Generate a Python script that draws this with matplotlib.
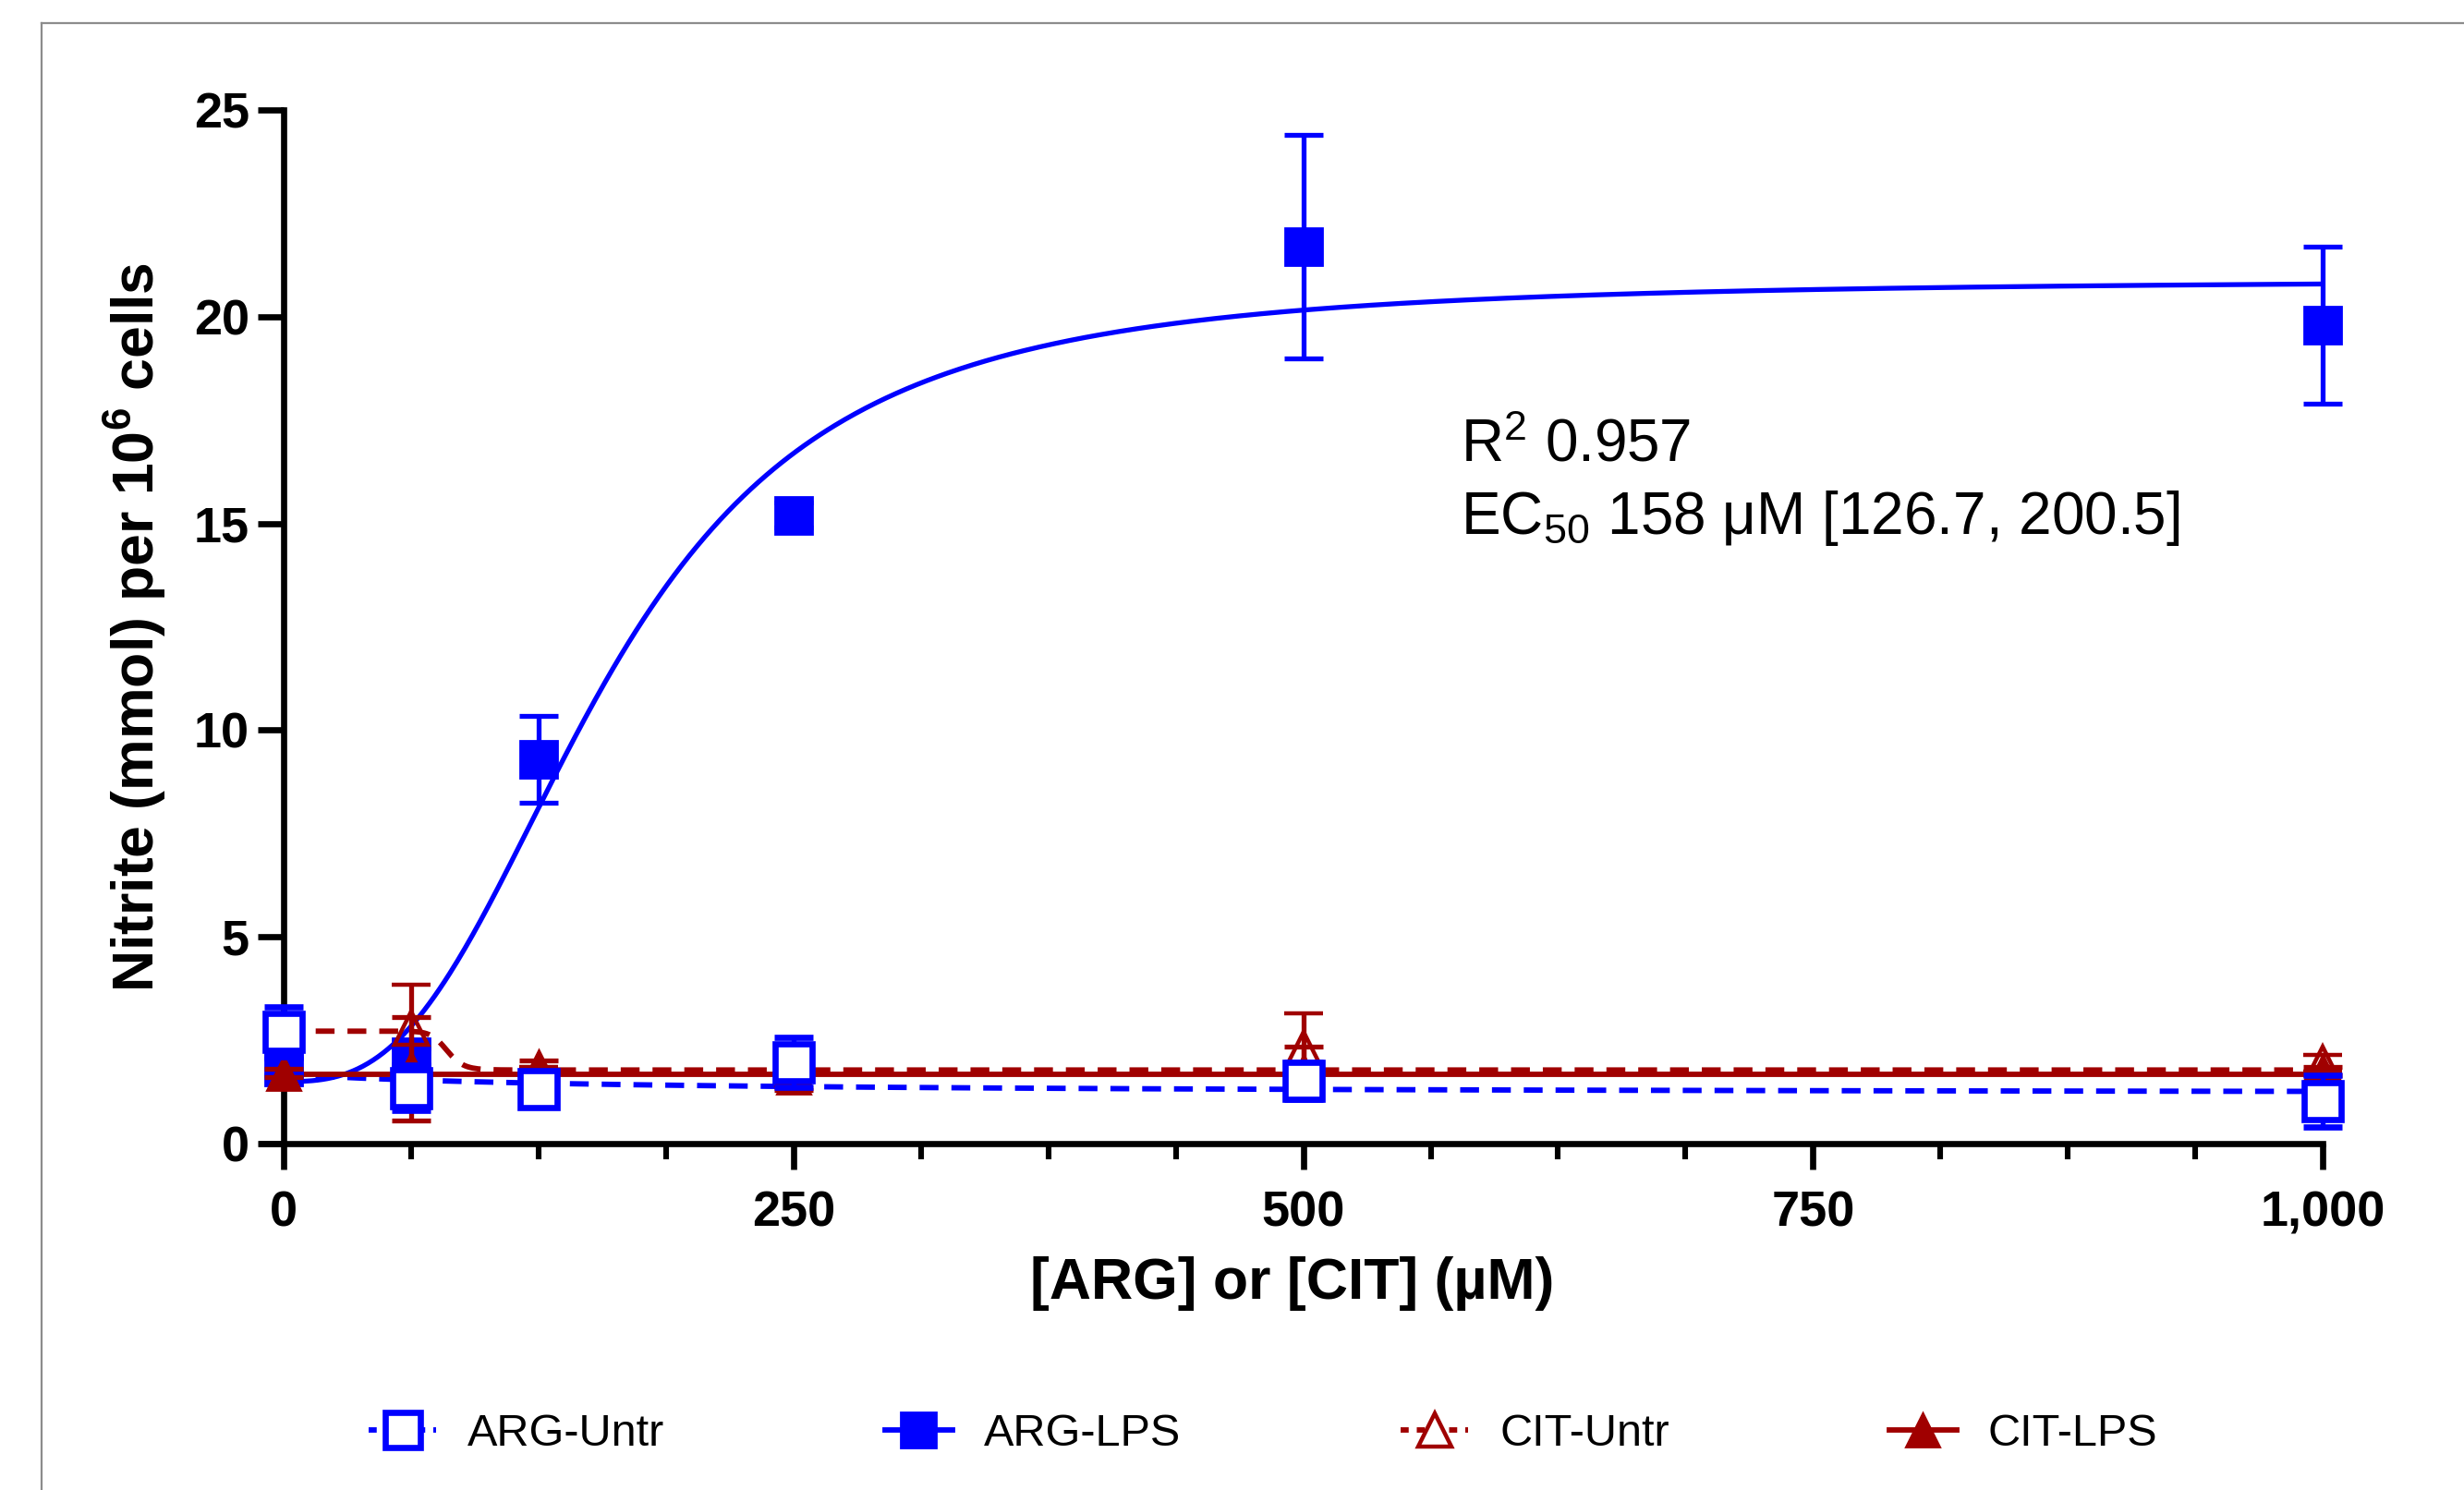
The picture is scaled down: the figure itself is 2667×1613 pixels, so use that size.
import numpy as np
import matplotlib
matplotlib.use("Agg")
import matplotlib.pyplot as plt
from matplotlib.lines import Line2D

plt.rcParams['font.family'] = ['Liberation Sans', 'DejaVu Sans']
plt.rcParams['mathtext.fontset'] = 'custom'
plt.rcParams['mathtext.rm'] = 'Liberation Sans'
plt.rcParams['mathtext.bf'] = 'Liberation Sans:bold'
plt.rcParams['mathtext.default'] = 'regular'

blue = '#0000ff'
red = '#a00000'

# concentrations (uM)
conc = [0, 62.5, 125, 250, 500, 1000]

# measured nitrite, mean and error
arg_untr = [2.7, 1.35, 1.32, 1.97, 1.52, 1.03]
arg_untr_err = [0.6, 0.55, 0.1, 0.6, 0.45, 0.62]
arg_lps = [1.85, 2.1, 9.3, 15.2, 21.7, 19.8]
arg_lps_err = [0.2, 0.2, 1.05, 0.3, 2.7, 1.9]
cit_untr = [2.7, 2.8, 1.75, 1.8, 2.3, 1.95]
cit_untr_err = [0.1, 1.05, 0.1, 0.2, 0.85, 0.2]
cit_lps = [1.7, 1.8, 1.85, 1.6, 1.75, 1.75]
cit_lps_err = [0.1, 1.25, 0.15, 0.3, 0.6, 0.1]

# fitted dose-response parameters: bottom, top, ec50, hill
arg_lps_fit = [1.5, 20.9, 158, 2.8]
arg_untr_fit = [1.68, 1.2, 150, 1.0]
cit_untr_fit = [2.72, 1.78, 80, 20.0]
cit_lps_level = 1.68

r2_text = r'R$^2$ 0.957'
ec50_text = r'EC$_{50}$ 158 μM [126.7, 200.5]'


def hill(x, p):
    bottom, top, ec50, h = p
    return bottom + (top - bottom) * x ** h / (x ** h + ec50 ** h)


fig = plt.figure(figsize=(2667 / 200, 1613 / 200), dpi=200)
ax = fig.add_axes([283 / 2667, 375 / 1613, (2514 - 283) / 2667, (1494 - 375) / 1613])

xs = np.linspace(0, 1000, 800)
ax.plot(xs, hill(xs, arg_lps_fit), color=blue, lw=1.9, zorder=2)
ax.plot(xs, hill(xs, arg_untr_fit), color=blue, lw=2.1, dashes=(3.5, 2.4), zorder=2)
ax.plot(xs, hill(xs, cit_untr_fit), color=red, lw=2.1, dashes=(3.5, 2.4), zorder=2)
ax.plot(xs, np.full_like(xs, cit_lps_level), color=red, lw=2.1, zorder=2)

eb = dict(ls='none', elinewidth=1.9, capsize=7.5, capthick=1.9, clip_on=False)
ax.errorbar(conc, arg_lps, yerr=arg_lps_err, color=blue, marker='s', ms=14.5,
            mfc=blue, mec=blue, zorder=3, **eb)
ax.errorbar(conc, cit_lps, yerr=cit_lps_err, color=red, marker='^', ms=13,
            mfc=red, mec=red, zorder=4, **eb)
ax.errorbar(conc, cit_untr, yerr=cit_untr_err, color=red, marker='^', ms=13,
            mfc='none', mec=red, mew=1.6, zorder=5, **eb)
ax.errorbar(conc, arg_untr, yerr=arg_untr_err, color=blue, marker='s', ms=14.5,
            mfc='white', mec=blue, mew=2.4, zorder=6, **eb)

ax.set_xlim(-11, 1000)
ax.set_ylim(0, 25)
ax.spines['left'].set_position(('data', 0))
ax.spines['top'].set_visible(False)
ax.spines['right'].set_visible(False)
for s in ['left', 'bottom']:
    ax.spines[s].set_linewidth(2.4)
    ax.spines[s].set_capstyle('projecting')

ax.set_xticks([0, 250, 500, 750, 1000])
ax.set_xticklabels(['0', '250', '500', '750', '1,000'])
ax.set_xticks(np.arange(0, 1001, 62.5), minor=True)
ax.set_yticks([0, 5, 10, 15, 20, 25])
ax.tick_params(axis='both', which='major', direction='out', length=10, width=2.4,
               labelsize=19.5)
ax.tick_params(axis='x', which='major', pad=8)
ax.tick_params(axis='y', which='major', pad=3.5)
ax.tick_params(axis='x', which='minor', direction='out', length=6, width=2.2)
for lab in ax.get_xticklabels() + ax.get_yticklabels():
    lab.set_fontweight('bold')

ax.set_xlabel('[ARG] or [CIT] (µM)', fontsize=22.5, fontweight='bold', labelpad=8)
ax.set_ylabel(r'Nitrite (mmol) per 10$^{\mathbf{6}}$ cells', fontsize=22.5,
              fontweight='bold', labelpad=10)

ax.text(577, 16.5, r2_text, fontsize=23, va='baseline')
ax.text(577, 14.75, ec50_text, fontsize=23, va='baseline')

handles = [
    Line2D([], [], color=blue, lw=2.1, dashes=(1.5, 1.5), marker='s', ms=14,
           mfc='white', mec=blue, mew=2.4),
    Line2D([], [], color=blue, lw=2.1, marker='s', ms=14, mfc=blue, mec=blue),
    Line2D([], [], color=red, lw=2.1, dashes=(1.5, 1.5), marker='^', ms=13,
           mfc='white', mec=red, mew=1.6),
    Line2D([], [], color=red, lw=2.1, marker='^', ms=13, mfc=red, mec=red),
]
labels = ['ARG-Untr', 'ARG-LPS', 'CIT-Untr', 'CIT-LPS']
fig.legend(handles, labels, loc='center', bbox_to_anchor=(0.5127, 0.0372), ncol=4,
           frameon=False, fontsize=17.5, handlelength=1.5, handletextpad=0.7,
           columnspacing=4.9)

# thin grey frame on top and left edge
fig.add_artist(Line2D([45 / 2667, 1], [1 - 25 / 1613, 1 - 25 / 1613], color='#8c8c8c', lw=0.8,
                      transform=fig.transFigure))
fig.add_artist(Line2D([45 / 2667, 45 / 2667], [0, 1 - 25 / 1613], color='#8c8c8c', lw=0.8,
                      transform=fig.transFigure))

fig.savefig('out.png', dpi=200)
